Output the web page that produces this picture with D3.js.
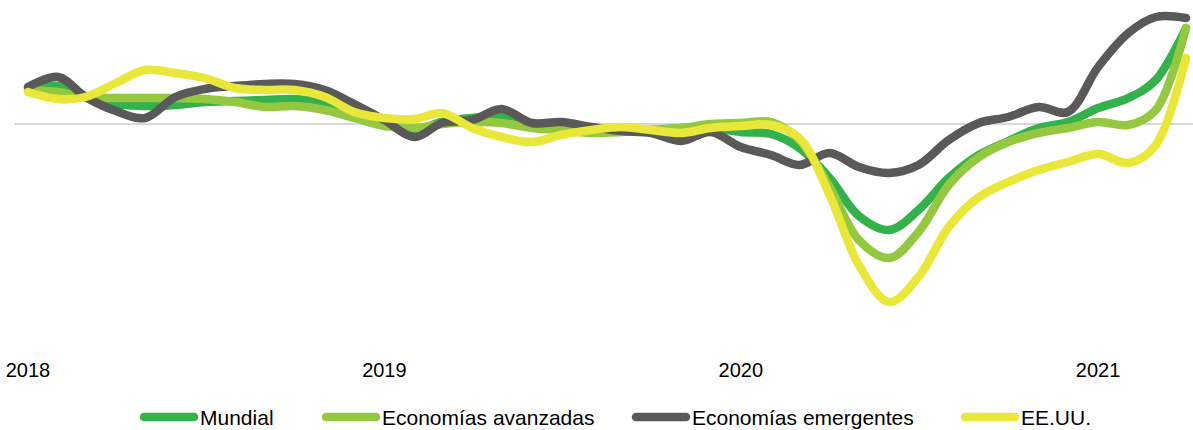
<!DOCTYPE html>
<html>
<head>
<meta charset="utf-8">
<script src="https://cdn.jsdelivr.net/npm/d3@7"></script>
<style>
  html, body { margin: 0; padding: 0; background: #fff; }
  svg { display: block; }
  .yr, .leg { font-family: "Liberation Sans", Arial, sans-serif; fill: #000; }
  .yr { font-size: 20px; }
  .leg { font-size: 21px; }
</style>
</head>
<body>
<svg id="chart" width="1193" height="430"></svg>
<script>
  // monthly, Jan 2018 .. Apr 2021
  const months = d3.timeMonths(new Date(2018, 0, 1), new Date(2021, 4, 1));
  const yearLabels = ['2018', '2019', '2020', '2021'];

  const mundial = [3.6, 3.8, 2.8, 2.0, 1.8, 1.9, 2.2, 2.3, 2.4, 2.5, 2.1, 1.2,
    0.0, -0.6, 0.2, 0.6, 0.7, -0.1, -0.2, -0.6, -0.6, -0.6, -0.4, -0.4,
    -0.8, -1.0, -2.4, -5.4, -9.2, -10.6, -8.6, -5.4, -3.1, -1.7, -0.4, 0.2,
    1.6, 2.6, 4.4, 9.6];
  const avanzadas = [3.4, 3.2, 2.7, 2.6, 2.6, 2.6, 2.5, 2.2, 1.7, 1.8, 1.4, 0.6,
    -0.2, -0.4, 0.0, 0.2, 0.1, -0.4, -0.6, -0.9, -0.8, -0.6, -0.4, 0.0,
    0.1, 0.2, -1.6, -6.3, -11.6, -13.4, -10.8, -6.1, -3.3, -1.8, -0.9, -0.4,
    0.2, -0.1, 1.4, 9.6];
  const emergentes = [3.7, 4.7, 2.7, 1.3, 0.6, 2.7, 3.5, 3.8, 4.0, 4.0, 3.4, 2.0,
    0.4, -1.3, 0.1, 0.4, 1.5, 0.1, 0.2, -0.3, -0.7, -0.9, -1.7, -0.8,
    -2.3, -3.1, -4.1, -2.9, -4.3, -4.9, -4.1, -1.6, 0.1, 0.7, 1.7, 1.2,
    5.7, 9.1, 10.7, 10.6];
  const eeuu = [3.2, 2.5, 2.7, 4.1, 5.4, 5.1, 4.6, 3.6, 3.4, 3.4, 2.7, 1.2,
    0.6, 0.5, 1.1, -0.4, -1.3, -1.8, -1.1, -0.6, -0.3, -0.6, -0.9, -0.4,
    -0.2, -0.1, -1.4, -7.1, -14.1, -17.8, -15.3, -10.3, -7.3, -5.8, -4.6, -3.8,
    -3.0, -3.9, -2.1, 6.6];

  const series = [
    {name: 'Mundial', values: mundial, color: '#33b24b'},
    {name: 'Economías avanzadas', values: avanzadas, color: '#95c841'},
    {name: 'Economías emergentes', values: emergentes, color: '#595959'},
    {name: 'EE.UU.', values: eeuu, color: '#e9e73a'}
  ];

  const svg = d3.select('#chart');

  const x = d3.scaleTime()
    .domain([months[0], months[months.length - 1]])
    .range([28, 1186]);
  const y = d3.scaleLinear().domain([-20, 12]).range([324, 4]);

  // zero line
  svg.append('line')
    .attr('x1', 14).attr('x2', 1193)
    .attr('y1', y(0)).attr('y2', y(0))
    .attr('stroke', '#d9d9d9')
    .attr('stroke-width', 2);

  const line = d3.line()
    .curve(d3.curveCatmullRom)
    .x((d, i) => x(months[i]))
    .y(d => y(d));

  svg.selectAll('path.serie')
    .data(series)
    .enter().append('path')
    .attr('class', 'serie')
    .attr('d', s => line(s.values))
    .attr('fill', 'none')
    .attr('stroke', s => s.color)
    .attr('stroke-width', 8.5)
    .attr('stroke-linecap', 'round')
    .attr('stroke-linejoin', 'round');

  // year labels
  svg.selectAll('text.yr')
    .data(yearLabels)
    .enter().append('text')
    .attr('class', 'yr')
    .attr('x', d => x(new Date(+d, 0, 1)))
    .attr('y', 377)
    .attr('text-anchor', 'middle')
    .text(d => d);

  // legend
  const legendX = [140, 322, 632, 961];
  const leg = svg.selectAll('g.legend')
    .data(series)
    .enter().append('g')
    .attr('class', 'legend')
    .attr('transform', (d, i) => `translate(${legendX[i]},417)`);
  leg.append('line')
    .attr('x1', 4).attr('x2', 54)
    .attr('stroke', d => d.color)
    .attr('stroke-width', 8.5)
    .attr('stroke-linecap', 'round');
  leg.append('text')
    .attr('class', 'leg')
    .attr('x', 60)
    .attr('y', 8)
    .text(d => d.name);
</script>
</body>
</html>
